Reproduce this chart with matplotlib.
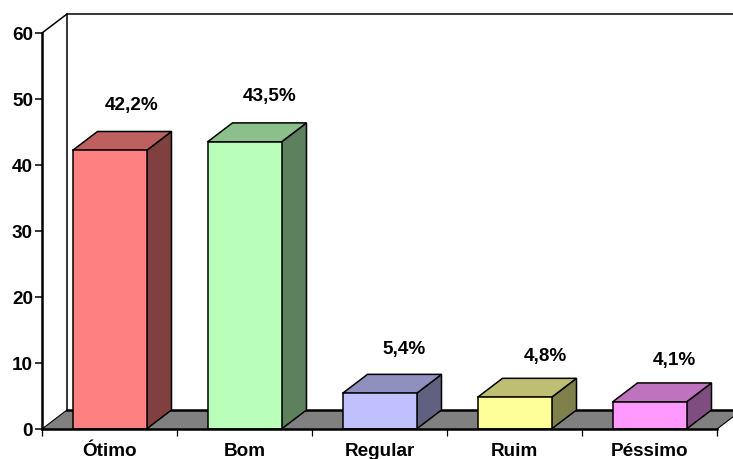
import matplotlib
matplotlib.use('Agg')
import numpy as np
import matplotlib.pyplot as plt

plt.rcParams['font.family'] = ['Liberation Sans', 'DejaVu Sans']
plt.rcParams['font.weight'] = 'bold'

categorias = ['Ótimo', 'Bom', 'Regular', 'Ruim', 'Péssimo']
valores = [42.2, 43.5, 5.4, 4.8, 4.1]
rotulos = ['42,2%', '43,5%', '5,4%', '4,8%', '4,1%']
yticks = [0, 10, 20, 30, 40, 50, 60]
cores = ['#FF8080', '#B9FFB9', '#C0C0FF', '#FFFF99', '#FF99FF']

# profundidade do efeito 3D, em unidades dos eixos
DX = 25 / 135
DY = 19 / 6.6
LARG = 74 / 135
FONTE = 13.6


def escurece(cor, f):
    r, g, b = matplotlib.colors.to_rgb(cor)
    return (r * f, g * f, b * f)


def barra3d(ax, x0, x1, h, cor):
    frente = [(x0, 0), (x1, 0), (x1, h), (x0, h)]
    topo = [(x0, h), (x1, h), (x1 + DX, h + DY), (x0 + DX, h + DY)]
    lado = [(x1, 0), (x1 + DX, DY), (x1 + DX, h + DY), (x1, h)]
    for pts, c in [(lado, escurece(cor, 0.5)), (topo, escurece(cor, 0.75)), (frente, cor)]:
        ax.add_patch(plt.Polygon(pts, closed=True, facecolor=c, edgecolor='black',
                                 linewidth=1.1, clip_on=False, zorder=4))


def main():
    fig = plt.figure(figsize=(7.33, 4.6), dpi=100)
    ax = fig.add_axes([42 / 733, 30 / 460, 675 / 733, 396 / 460])
    ax.set_xlim(0, 5)
    ax.set_ylim(0, 60)

    for s in ['top', 'right']:
        ax.spines[s].set_visible(False)
    ax.spines['left'].set_linewidth(1.8)
    ax.spines['bottom'].set_linewidth(1.8)
    ax.spines['bottom'].set_zorder(5)

    # chao e parede do fundo
    ax.add_patch(plt.Polygon([(0, 0), (DX, DY), (5 + DX, DY), (5, 0)], closed=True,
                             facecolor='#808080', edgecolor='none', clip_on=False, zorder=1))
    ax.plot([DX, 5 + DX], [DY, DY], color='black', lw=1.8, clip_on=False, zorder=2)
    ax.plot([5, 5 + DX], [0, DY], color='black', lw=0.8, clip_on=False, zorder=2)
    ax.plot([0, DX], [0, DY], color='black', lw=0.8, clip_on=False, zorder=2)
    ax.plot([DX, DX], [DY, 60 + DY], color='black', lw=1.1, clip_on=False, zorder=2)
    ax.plot([0, DX, 5 + DX], [60, 60 + DY, 60 + DY], color='black', lw=1.1, clip_on=False, zorder=2)

    ax.set_yticks(yticks)
    ax.set_yticklabels([str(t) for t in yticks], fontsize=FONTE, fontweight='bold')
    ax.tick_params(axis='y', length=5, width=1.1, pad=1.5)

    ax.set_xticks(np.arange(6))
    ax.set_xticklabels([])
    ax.tick_params(axis='x', which='major', length=5, width=0.9)
    ax.set_xticks(np.arange(5) + 0.5, minor=True)
    ax.set_xticklabels(categorias, minor=True, fontsize=FONTE, fontweight='bold')
    ax.tick_params(axis='x', which='minor', length=0, pad=9.5)

    # deslocamento de cada rotulo em relacao ao centro da barra, em pixels
    desl_x = [22, 25, 25, 31, 25]
    desl_y = [46, 46, 45, 42, 42]
    for i, v in enumerate(valores):
        x0 = i + 0.5 - LARG / 2
        barra3d(ax, x0, x0 + LARG, v, cores[i])
        ax.annotate(rotulos[i], (i + 0.5, v), xytext=(desl_x[i] * 0.72, desl_y[i] * 0.72),
                    textcoords='offset points', ha='center', va='center',
                    fontsize=FONTE, fontweight='bold', annotation_clip=False, zorder=6)

    fig.savefig('out.png', dpi=100)


if __name__ == '__main__':
    main()
